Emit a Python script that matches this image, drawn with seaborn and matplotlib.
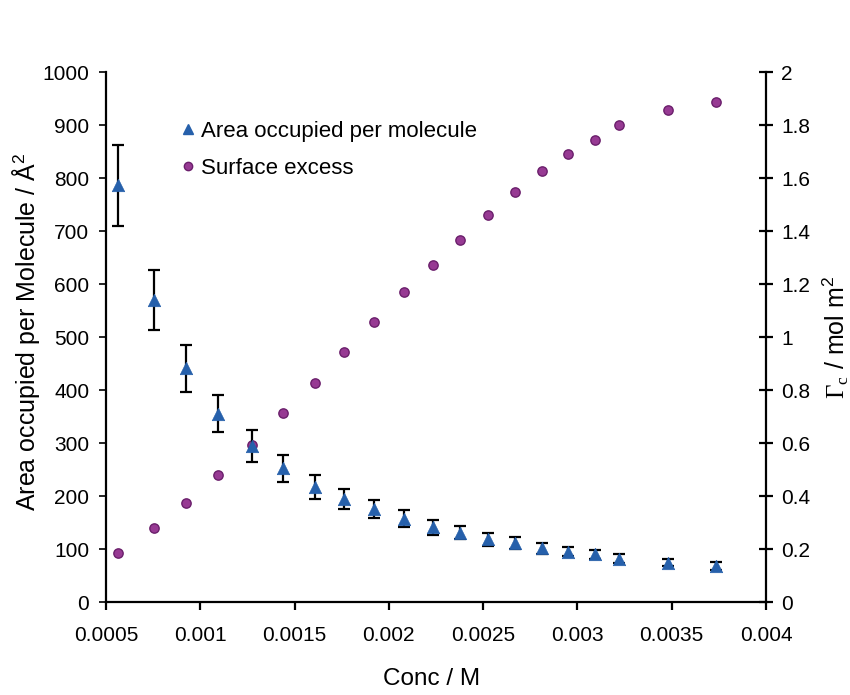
import numpy as np
import pandas as pd
import matplotlib
matplotlib.use("Agg")
import matplotlib.pyplot as plt
import seaborn as sns
from matplotlib.lines import Line2D

# ---- data ----
conc = [0.000564, 0.000753, 0.000926, 0.001092, 0.001273, 0.00144, 0.00161,
        0.001764, 0.001923, 0.002082, 0.002234, 0.002379, 0.002527, 0.002667,
        0.00281, 0.002951, 0.003091, 0.00322, 0.003481, 0.003734]
area = [786, 570, 441, 355, 295, 252, 217, 194, 175, 157, 141, 131, 118, 111,
        101, 95, 90, 82, 74, 68]
area_err = [77, 57, 44, 35, 30, 25, 22, 19, 17, 16, 14, 13, 12, 11, 10, 9, 9, 8, 7, 7]
surface_excess = [0.185, 0.280, 0.375, 0.480, 0.594, 0.714, 0.828, 0.942, 1.058,
                  1.169, 1.272, 1.366, 1.460, 1.547, 1.628, 1.692, 1.745, 1.799,
                  1.857, 1.886]
x_ticks = [0.0005, 0.001, 0.0015, 0.002, 0.0025, 0.003, 0.0035, 0.004]
x_tick_labels = ["0.0005", "0.001", "0.0015", "0.002", "0.0025", "0.003", "0.0035", "0.004"]
y_ticks = [0, 100, 200, 300, 400, 500, 600, 700, 800, 900, 1000]
y2_ticks = [0, 0.2, 0.4, 0.6, 0.8, 1, 1.2, 1.4, 1.6, 1.8, 2]
y2_tick_labels = ["0", "0.2", "0.4", "0.6", "0.8", "1", "1.2", "1.4", "1.6", "1.8", "2"]

df = pd.DataFrame({"conc": conc, "area": area, "err": area_err, "gamma": surface_excess})

sns.set_theme(style="white")
plt.rcParams['font.family'] = ['Liberation Sans', 'DejaVu Sans']
plt.rcParams['mathtext.fontset'] = 'custom'
plt.rcParams['mathtext.rm'] = 'Liberation Serif'
plt.rcParams['mathtext.sf'] = 'Liberation Sans'
plt.rcParams['text.color'] = 'black'
plt.rcParams['axes.labelcolor'] = 'black'

BLUE = "#2660ab"
PURPLE = "#973a93"
PURPLE_EDGE = "#6b1f6c"

fig = plt.figure(figsize=(8.5, 6.95), dpi=100)
ax = fig.add_axes([0.1247, 0.1338, 0.9012 - 0.1247, 0.8964 - 0.1338])
ax2 = ax.twinx()

# error bars for area
ax.errorbar(df["conc"], df["area"], yerr=df["err"], fmt="none", ecolor="black",
            elinewidth=1.6, capsize=4, capthick=1.6, zorder=2)
sns.scatterplot(data=df, x="conc", y="area", ax=ax, marker="^", s=80,
                color=BLUE, edgecolor=BLUE, linewidth=0.5, legend=False, zorder=3)
sns.scatterplot(data=df, x="conc", y="gamma", ax=ax2, marker="o", s=45,
                color=PURPLE, edgecolor=PURPLE_EDGE, linewidth=1.0, legend=False, zorder=3)

ax.set_xlim(0.0005, 0.004)
ax.set_ylim(0, 1000)
ax2.set_ylim(0, 2)
ax.set_xticks(x_ticks)
ax.set_xticklabels(x_tick_labels)
ax.set_yticks(y_ticks)
ax2.set_yticks(y2_ticks)
ax2.set_yticklabels(y2_tick_labels)

for a in (ax, ax2):
    for s in a.spines.values():
        s.set_visible(False)
ax.spines["left"].set_visible(True)
ax.spines["bottom"].set_visible(True)
ax2.spines["right"].set_visible(True)
for s in (ax.spines["left"], ax.spines["bottom"], ax2.spines["right"]):
    s.set_color("black")
    s.set_linewidth(1.6)

ax.tick_params(axis="x", direction="out", length=6, width=1.6, colors="black",
               labelsize=15, bottom=True, pad=11)
ax.tick_params(axis="y", direction="out", length=5, width=1.2, colors="black",
               labelsize=15, left=True, pad=7)
ax2.tick_params(axis="y", direction="inout", length=10, width=1.6, colors="black",
                labelsize=15, right=True, pad=6)

ax.set_xlabel("Conc / M", fontsize=17.5, color="black")
ax.xaxis.set_label_coords(0.493, -0.124)
ax.set_ylabel("Area occupied per Molecule / Å$^{\\mathsf{2}}$", fontsize=18, color="black")
ax.yaxis.set_label_coords(-0.097, 0.51)
ax2.set_ylabel("$\\Gamma_{\\mathrm{c}}$ / mol m$^{\\mathsf{2}}$", fontsize=18, color="black")
ax2.yaxis.set_label_coords(1.083, 0.5)

ax.grid(False)
ax2.grid(False)
ax.set_zorder(ax2.get_zorder() + 1)
ax.patch.set_visible(False)

handles = [
    Line2D([], [], linestyle="none", marker="^", markersize=7, color=BLUE),
    Line2D([], [], linestyle="none", marker="o", markersize=6, markerfacecolor=PURPLE,
           markeredgecolor=PURPLE_EDGE),
]
leg = ax.legend(handles, ["Area occupied per molecule", "Surface excess"],
                loc="upper left", bbox_to_anchor=(0.075, 0.945), frameon=False,
                fontsize=16, handletextpad=0.05, handlelength=1.1, labelspacing=0.72)
for t in leg.get_texts():
    t.set_color("black")

fig.savefig("out.png", dpi=100, facecolor="white")
